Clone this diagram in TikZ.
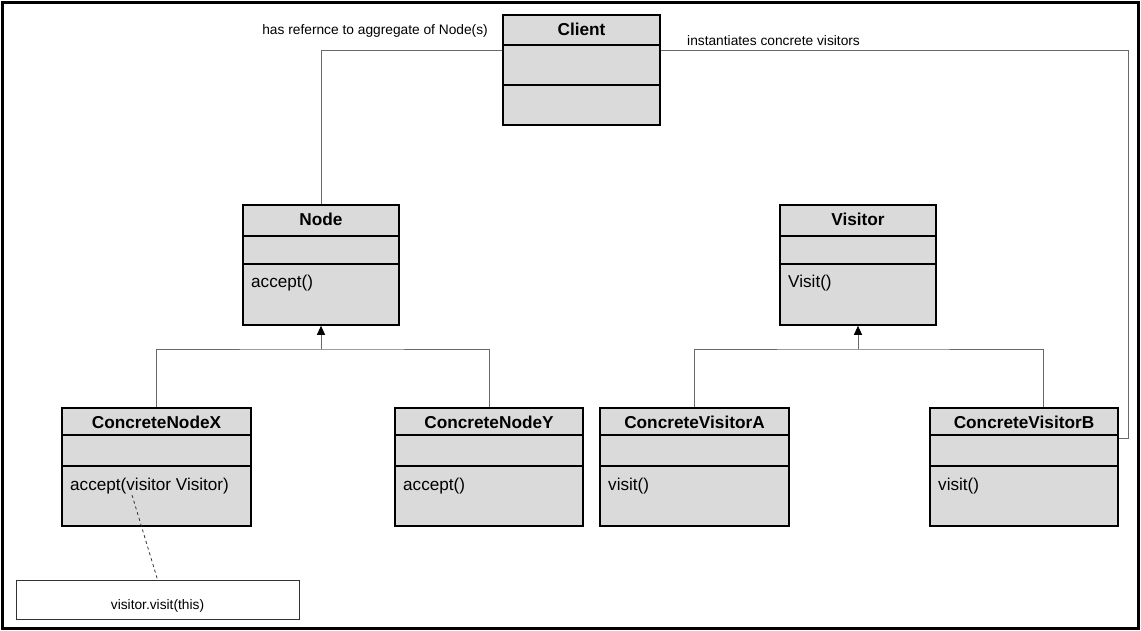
\documentclass[tikz,border=0pt]{standalone}
\usepackage{fontspec}
\setmainfont{Liberation Sans}
\usetikzlibrary{arrows.meta,fit}
\definecolor{boxfill}{RGB}{218,218,218}
\definecolor{connc}{RGB}{105,105,105}
\tikzset{
  classbox/.style={draw=black, line width=1.6bp, fill=boxfill, inner sep=0pt},
  classline/.style={draw=black, line width=1.6bp},
  titletext/.style={anchor=base, font=\fontsize{17.3}{19}\selectfont\bfseries, inner sep=0pt},
  methodtext/.style={anchor=base west, font=\fontsize{17.2}{19}\selectfont, inner sep=0pt},
  labeltext/.style={font=\fontsize{13.8}{15}\selectfont, inner sep=0pt},
  conn/.style={draw=connc, line width=1bp},
  inherit/.style={conn, -{Triangle[width=8bp,length=9bp,color=black]}},
  notebox/.style={draw=black!80, line width=0.8bp, fill=white, inner sep=0pt},
  noteline/.style={draw=black!80, line width=0.8bp, dash pattern=on 3bp off 3bp},
  frame/.style={draw=black, line width=3bp}
}
\newcommand{\umlclass}[9]{%
  \node[classbox, fit={(#2,#4) (#3,#7)}] (#1) {};
  \draw[classline] (#2,#5) -- (#3,#5);
  \draw[classline] (#2,#6) -- (#3,#6);
  \node[titletext] (#1-t) at ({(#2+#3)/2},{#4+20.5}) {#8};
  \node[methodtext] (#1-m) at ({#2+8},{#6+24}) {#9};
}
\begin{document}
\begin{tikzpicture}[x=1bp, y=-1bp]
\useasboundingbox (0,0) rectangle (1141,631);
\draw[frame] (2.5,2.5) rectangle (1138.5,628.5);

% classes
\umlclass{client}{503}{660}{15}{45}{85}{125}{Client}{}
\umlclass{node}{243}{399}{205}{236}{264}{325}{Node}{accept()}
\umlclass{visitor}{780}{936}{205}{236}{264}{325}{Visitor}{Visit()}
\umlclass{cnx}{62}{251}{408}{435}{466}{526}{ConcreteNodeX}{accept(visitor Visitor)}
\umlclass{cny}{395}{583}{408}{435}{466}{526}{ConcreteNodeY}{accept()}
\umlclass{cva}{600}{789}{408}{435}{466}{526}{ConcreteVisitorA}{visit()}
\umlclass{cvb}{930}{1118}{408}{435}{466}{526}{ConcreteVisitorB}{visit()}

% note
\node[notebox, fit={(16,580) (299,619)}] (note) {};
\node[labeltext, anchor=base] (note-t) at (157.5,609) {visitor.visit(this)};

% labels
\node[labeltext, anchor=base east] (lab1) at (488,35) {has refernce to aggregate of Node(s)};
\node[labeltext, anchor=base west] (lab2) at (687,46) {instantiates concrete visitors};

% client associations
\coordinate (cl) at (321,51);
\coordinate (cr) at (1128,51);
\coordinate (cr2) at (1128,438);
\draw[conn] (client.west |- cl) -- (cl) -- (node.north);
\draw[conn] (client.east |- cr) -- (cr) -- (cr2) -- (cvb.east |- cr2);

% node inheritance
\coordinate (nj) at (321,349);
\draw[conn] (cnx.north) |- (nj) -| (cny.north);
\draw[inherit] (nj) -- (node.south);

% visitor inheritance
\coordinate (vj) at (858,349);
\coordinate (vj2) at (1043,349);
\draw[conn] (cva.north) |- (vj) -- (vj2) -- (vj2 |- cvb.north);
\draw[inherit] (vj) -- (visitor.south);

% note connector
\coordinate (dstart) at (132,495);
\draw[noteline] (dstart) -- (note.north);
\end{tikzpicture}
\end{document}
